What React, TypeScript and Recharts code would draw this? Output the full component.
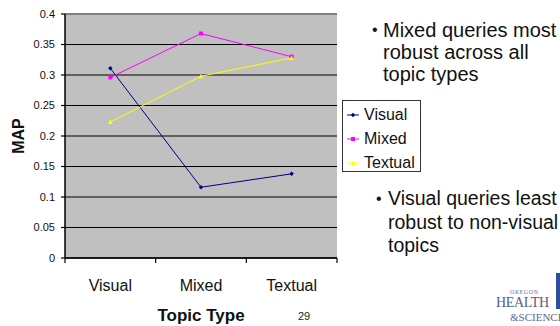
import React from 'react';
import {
  LineChart,
  Line,
  XAxis,
  YAxis,
  CartesianGrid,
  Legend,
  ReferenceLine,
  Label,
} from 'recharts';

// Topic categories along the x axis
const topicTypes = ['Visual', 'Mixed', 'Textual'];

// Query types, in legend order
const queryTypes = ['Visual', 'Mixed', 'Textual'];

// Mean average precision for each query type, per topic type
const visualQueries = [0.311, 0.116, 0.138];
const mixedQueries = [0.296, 0.368, 0.33];
const textualQueries = [0.223, 0.298, 0.328];

// Value axis ticks
const mapTicks = [0, 0.05, 0.1, 0.15, 0.2, 0.25, 0.3, 0.35, 0.4];

const data = topicTypes.map((topic, i) => ({
  topic,
  Visual: visualQueries[i],
  Mixed: mixedQueries[i],
  Textual: textualQueries[i],
}));

const FONT = '"Liberation Sans", Arial, sans-serif';
const SERIF = '"Liberation Serif", "DejaVu Serif", serif';
const X_TICK_SIZE = 5;
const X_TICK_MARGIN = 17;

type Shape = 'diamond' | 'square' | 'triangle';

const Marker = ({ cx, cy, color, shape }: { cx: number; cy: number; color: string; shape: Shape }) => {
  if (shape === 'square') {
    return <rect x={cx - 2} y={cy - 2} width={4} height={4} fill={color} />;
  }
  if (shape === 'triangle') {
    return <polygon points={`${cx},${cy - 2.5} ${cx + 2.5},${cy + 2} ${cx - 2.5},${cy + 2}`} fill={color} />;
  }
  return <polygon points={`${cx},${cy - 2.2} ${cx + 2.2},${cy} ${cx},${cy + 2.2} ${cx - 2.2},${cy}`} fill={color} />;
};

const seriesShapes: Record<string, Shape> = {
  Visual: 'diamond',
  Mixed: 'square',
  Textual: 'triangle',
};

const makeDot = (color: string, shape: Shape) => (props: any) => (
  <Marker key={`dot-${props.index}`} cx={props.cx} cy={props.cy} color={color} shape={shape} />
);

// Category labels centred in each band, with tick marks on the band boundaries
const TopicTick = (props: any) => {
  const { x, y, payload, index, visibleTicksCount } = props;
  const half = payload && typeof payload.offset === 'number' && payload.offset > 0 ? payload.offset : 45.3;
  const axisY = y - X_TICK_SIZE - X_TICK_MARGIN;
  const last = index === visibleTicksCount - 1;
  return (
    <g>
      <line x1={x - half} x2={x - half} y1={axisY} y2={axisY + X_TICK_SIZE} stroke="#000" strokeWidth={1.2} />
      {last && (
        <line x1={x + half} x2={x + half} y1={axisY} y2={axisY + X_TICK_SIZE} stroke="#000" strokeWidth={1.2} />
      )}
      <text x={x} y={y} dy="0.71em" textAnchor="middle" fontSize={16} fill="#111" fontFamily={FONT}>
        {payload.value}
      </text>
    </g>
  );
};

const LegendBox = (props: any) => {
  const items = [...(props.payload || [])].sort(
    (a: any, b: any) => queryTypes.indexOf(a.value) - queryTypes.indexOf(b.value)
  );
  return (
    <div
      style={{
        width: 79,
        height: 72,
        boxSizing: 'border-box',
        border: '1px solid #333',
        background: '#fff',
        fontFamily: FONT,
        fontSize: 16,
        color: '#111',
        paddingTop: 2,
      }}
    >
      {items.map((entry: any) => (
        <div key={entry.value} style={{ display: 'flex', alignItems: 'center', height: 24, paddingLeft: 3 }}>
          <svg width={14} height={8} style={{ marginRight: 4 }}>
            <line x1={1} x2={13} y1={4} y2={4} stroke={entry.color} strokeWidth={1} />
            <Marker cx={7} cy={4} color={entry.color} shape={seriesShapes[entry.value] || 'diamond'} />
          </svg>
          <span style={{ lineHeight: '24px' }}>{entry.value}</span>
        </div>
      ))}
    </div>
  );
};

const textBlock: React.CSSProperties = {
  position: 'absolute',
  fontFamily: FONT,
  color: '#111',
  whiteSpace: 'nowrap',
};

export default function App() {
  return (
    <div
      style={{
        position: 'absolute',
        left: 0,
        top: 0,
        width: 560,
        height: 326,
        overflow: 'hidden',
        background: '#fff',
        fontFamily: FONT,
      }}
    >
      <LineChart
        width={560}
        height={326}
        data={data}
        margin={{ top: 14, right: 223, bottom: 0, left: 0 }}
        style={{ fontFamily: FONT }}
      >
        <CartesianGrid horizontal vertical={false} stroke="#000" strokeWidth={1.2} fill="#C0C0C0" fillOpacity={1} />
        <XAxis
          dataKey="topic"
          scale="band"
          height={68}
          tickLine={false}
          tickSize={X_TICK_SIZE}
          tickMargin={X_TICK_MARGIN}
          axisLine={{ stroke: '#000', strokeWidth: 1.5 }}
          tick={<TopicTick />}
          interval={0}
        >
          <Label
            content={(p: any) => {
              const vb = p.viewBox || { x: 65, y: 258, width: 272 };
              return (
                <text
                  x={vb.x + vb.width / 2}
                  y={321}
                  textAnchor="middle"
                  fontSize={17}
                  fontWeight="bold"
                  fill="#111"
                  fontFamily={FONT}
                >
                  Topic Type
                </text>
              );
            }}
          />
        </XAxis>
        <YAxis
          width={65}
          domain={[0, 0.4]}
          ticks={mapTicks}
          interval={0}
          tickSize={4}
          tickMargin={6}
          tick={{ fontSize: 11, fill: '#111', fontFamily: FONT }}
          tickLine={{ stroke: '#000', strokeWidth: 1.2 }}
          axisLine={{ stroke: '#000', strokeWidth: 1.5 }}
        >
          <Label
            content={(p: any) => {
              const vb = p.viewBox || { y: 14, height: 244 };
              const cy = vb.y + vb.height / 2;
              return (
                <text
                  x={18}
                  y={cy}
                  transform={`rotate(-90, 18, ${cy})`}
                  textAnchor="middle"
                  dominantBaseline="central"
                  fontSize={16}
                  fontWeight="bold"
                  fill="#111"
                  fontFamily={FONT}
                >
                  MAP
                </text>
              );
            }}
          />
        </YAxis>
        <YAxis
          yAxisId="frame"
          orientation="right"
          width={0}
          domain={[0, 0.4]}
          tick={false}
          tickLine={false}
          axisLine={{ stroke: '#808080', strokeWidth: 2 }}
        />
        <ReferenceLine y={0.4} stroke="#808080" strokeWidth={2} />
        <Line
          dataKey="Visual"
          stroke="#000080"
          strokeWidth={1}
          dot={makeDot('#000080', 'diamond')}
          activeDot={false}
          isAnimationActive={false}
        />
        <Line
          dataKey="Mixed"
          stroke="#FF00FF"
          strokeWidth={1}
          dot={makeDot('#FF00FF', 'square')}
          activeDot={false}
          isAnimationActive={false}
        />
        <Line
          dataKey="Textual"
          stroke="#FFFF00"
          strokeWidth={1}
          dot={makeDot('#FFFF00', 'triangle')}
          activeDot={false}
          isAnimationActive={false}
        />
        <Legend
          layout="vertical"
          align="center"
          verticalAlign="middle"
          content={<LegendBox />}
          wrapperStyle={{ position: 'absolute', left: 342, top: 100, width: 79, height: 72 }}
        />
      </LineChart>

      {/* slide notes beside the chart */}
      <div style={{ ...textBlock, left: 372, top: 19, fontSize: 20, lineHeight: '22px' }}>
        <div style={{ position: 'relative', paddingLeft: 11 }}>
          <span style={{ position: 'absolute', left: 0, fontSize: 16 }}>•</span>
          Mixed queries most
        </div>
        <div style={{ paddingLeft: 11 }}>robust across all</div>
        <div style={{ paddingLeft: 11 }}>topic types</div>
      </div>
      <div style={{ ...textBlock, left: 376, top: 187, fontSize: 19.5, lineHeight: '23.5px' }}>
        <div style={{ position: 'relative', paddingLeft: 12 }}>
          <span style={{ position: 'absolute', left: 0, fontSize: 16 }}>•</span>
          Visual queries least
        </div>
        <div style={{ paddingLeft: 12 }}>robust to non-visual</div>
        <div style={{ paddingLeft: 12 }}>topics</div>
      </div>

      <div
        style={{
          position: 'absolute',
          left: 298,
          top: 310,
          fontFamily: FONT,
          fontSize: 11,
          color: '#222',
        }}
      >
        29
      </div>

      {/* institution mark, bottom right */}
      <div style={{ position: 'absolute', left: 556, top: 273, width: 6, height: 36, background: '#2d4f9e' }} />
      <div
        style={{
          position: 'absolute',
          left: 510,
          top: 289,
          fontFamily: SERIF,
          fontSize: 6,
          letterSpacing: 0.6,
          color: '#6b7896',
          lineHeight: '7px',
        }}
      >
        OREGON
      </div>
      <div
        style={{
          position: 'absolute',
          left: 496,
          top: 296,
          fontFamily: SERIF,
          fontSize: 14,
          letterSpacing: -0.3,
          color: '#4f5f86',
          lineHeight: '14px',
        }}
      >
        HEALTH
      </div>
      <div
        style={{
          position: 'absolute',
          left: 510,
          top: 311,
          fontFamily: SERIF,
          fontSize: 11,
          color: '#5a6a8e',
          whiteSpace: 'nowrap',
          lineHeight: '12px',
        }}
      >
        &amp;SCIENCE
      </div>
    </div>
  );
}
